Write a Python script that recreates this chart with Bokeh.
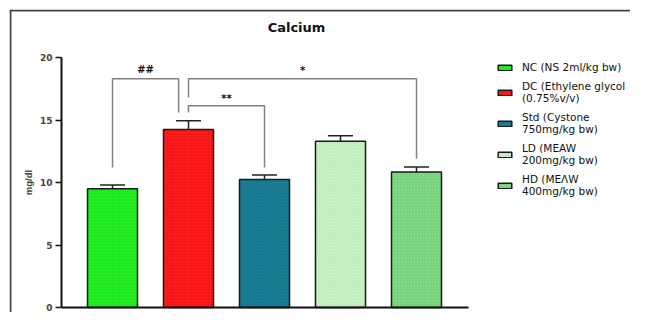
from bokeh.plotting import figure
from bokeh.models import (ColumnDataSource, Whisker, TeeHead, Legend, LegendItem,
                          Range1d, FixedTicker, Label, Span)
from bokeh.embed import file_html
from bokeh.resources import INLINE
from bokeh.core.properties import value

# ---- data ----
group_labels = ["NC (NS 2ml/kg bw)", "DC (Ethylene glycol\n(0.75%v/v)",
                "Std (Cystone\n750mg/kg bw)", "LD (MEAW\n200mg/kg bw)",
                "HD (MEΛW\n400mg/kg bw)"]
positions = [1, 2, 3, 4, 5]
means = [9.5, 14.25, 10.25, 13.3, 10.85]
sem = [0.3, 0.7, 0.35, 0.45, 0.4]
colors = ["#22f022", "#ff1c1c", "#1a7f96", "#c8f0c6", "#80da84"]
hatch_colors = ["#0fb00f", "#c00000", "#0d5566", "#a0d8a0", "#4fa85a"]
y_ticks = [0, 5, 10, 15, 20]
title_text = "Calcium"
y_label = "mg/dl"

# significance brackets
br_x0 = [1, 2, 2]
br_x1 = [1.87, 5, 3]
br_y = [18.3, 18.3, 16.15]
br_left_bottom = [11.2, 16.8, 15.6]
br_right_bottom = [15.6, 11.9, 11.2]
br_labels = ["##", "*", "**"]
br_label_y = [19.05, 18.95, 16.7]

FONT = "DejaVu Sans"

X0, X1 = -0.3553, 7.8158
Y0, Y1 = -0.4, 23.84
AX_X = 0.329          # where the y axis sits
AX_END = 5.684        # end of the x axis line

p = figure(width=630, height=312, output_backend="svg", toolbar_location=None,
           x_range=Range1d(X0, X1), y_range=Range1d(Y0, Y1),
           min_border_left=9, min_border_right=0, min_border_top=9,
           min_border_bottom=0, tools="")
p.grid.visible = False
p.outline_line_color = None
p.background_fill_color = "white"
p.border_fill_color = "white"

# outer frame (left and top edges, as in the cropped original)
p.add_layout(Span(location=X0 + 1 / 76, dimension="height", line_color="#444444", line_width=2))
p.add_layout(Span(location=Y1 - 1 / 12.5, dimension="width", line_color="#444444", line_width=2))

# title
p.add_layout(Label(x=3.421, y=22.4, text=title_text, text_align="center",
                   text_baseline="middle", text_font=FONT, text_font_size="13px",
                   text_font_style="bold", text_color="#111111"))

# bars
renderers = []
for i in range(len(positions)):
    src = ColumnDataSource(dict(x=[positions[i]], top=[means[i]]))
    r = p.vbar(x="x", top="top", width=0.658, bottom=0, source=src,
               fill_color=colors[i], line_color="#1a1a1a", line_width=1.5,
               hatch_pattern="dot", hatch_scale=3, hatch_weight=1,
               hatch_color=hatch_colors[i], hatch_alpha=0.5)
    renderers.append(r)

# error bars (upper only)
err_src = ColumnDataSource(dict(
    x=positions,
    upper=[m + s for m, s in zip(means, sem)],
    lower=means))
p.add_layout(Whisker(source=err_src, base="x", upper="upper", lower="lower",
                     dimension="height", line_color="#222222", line_width=1.5,
                     upper_head=TeeHead(size=25, line_color="#222222", line_width=1.5),
                     lower_head=None))

# brackets
xs = [[a, a, b, b] for a, b in zip(br_x0, br_x1)]
ys = [[lb, y, y, rb] for lb, y, rb in zip(br_left_bottom, br_y, br_right_bottom)]
p.multi_line(xs=xs, ys=ys, line_color="#808080", line_width=1.5)
p.text(x=[(a + b) / 2 for a, b in zip(br_x0, br_x1)], y=br_label_y, text=br_labels,
       text_font=value(FONT), text_font_size="10px", text_font_style="bold",
       text_align="center", text_baseline="middle", text_color="#111111")

# axes
yax = p.yaxis[0]
yax.fixed_location = AX_X
yax.bounds = (0, 20)
yax.ticker = FixedTicker(ticks=y_ticks)
yax.axis_label = y_label
yax.axis_label_text_font = "Liberation Sans"
yax.axis_label_text_font_size = "9.5px"
yax.axis_label_text_font_style = "bold"
yax.axis_label_standoff = 3
yax.major_label_text_font = FONT
yax.major_label_text_font_size = "9px"
yax.major_label_text_font_style = "bold"
yax.major_label_standoff = 3
yax.major_tick_out = 6
yax.major_tick_in = 0
yax.minor_tick_out = 0
yax.minor_tick_in = 0
yax.axis_line_width = 2
yax.major_tick_line_width = 1.5
yax.axis_line_color = "#111111"
yax.major_tick_line_color = "#111111"

xax = p.xaxis[0]
xax.fixed_location = 0
xax.ticker = FixedTicker(ticks=[])
xax.bounds = (AX_X, AX_END)
xax.major_tick_out = 0
xax.major_tick_in = 0
xax.minor_tick_out = 0
xax.major_label_standoff = 0
xax.major_label_text_font_size = "0px"
xax.axis_line_width = 2
xax.axis_line_color = "#111111"

# legend
items = [LegendItem(label=group_labels[i], renderers=[renderers[i]]) for i in range(len(positions))]
legend = Legend(items=items, location=(487, 115), orientation="vertical",
                glyph_width=17, glyph_height=7, label_standoff=9, spacing=7,
                padding=0, margin=0, label_height=12,
                label_text_font=FONT, label_text_font_size="10.5px",
                label_text_line_height=1.2, label_text_color="#111111",
                border_line_color=None, background_fill_alpha=0)
p.add_layout(legend, "center")

open("out.html", "w").write(file_html(p, INLINE))
